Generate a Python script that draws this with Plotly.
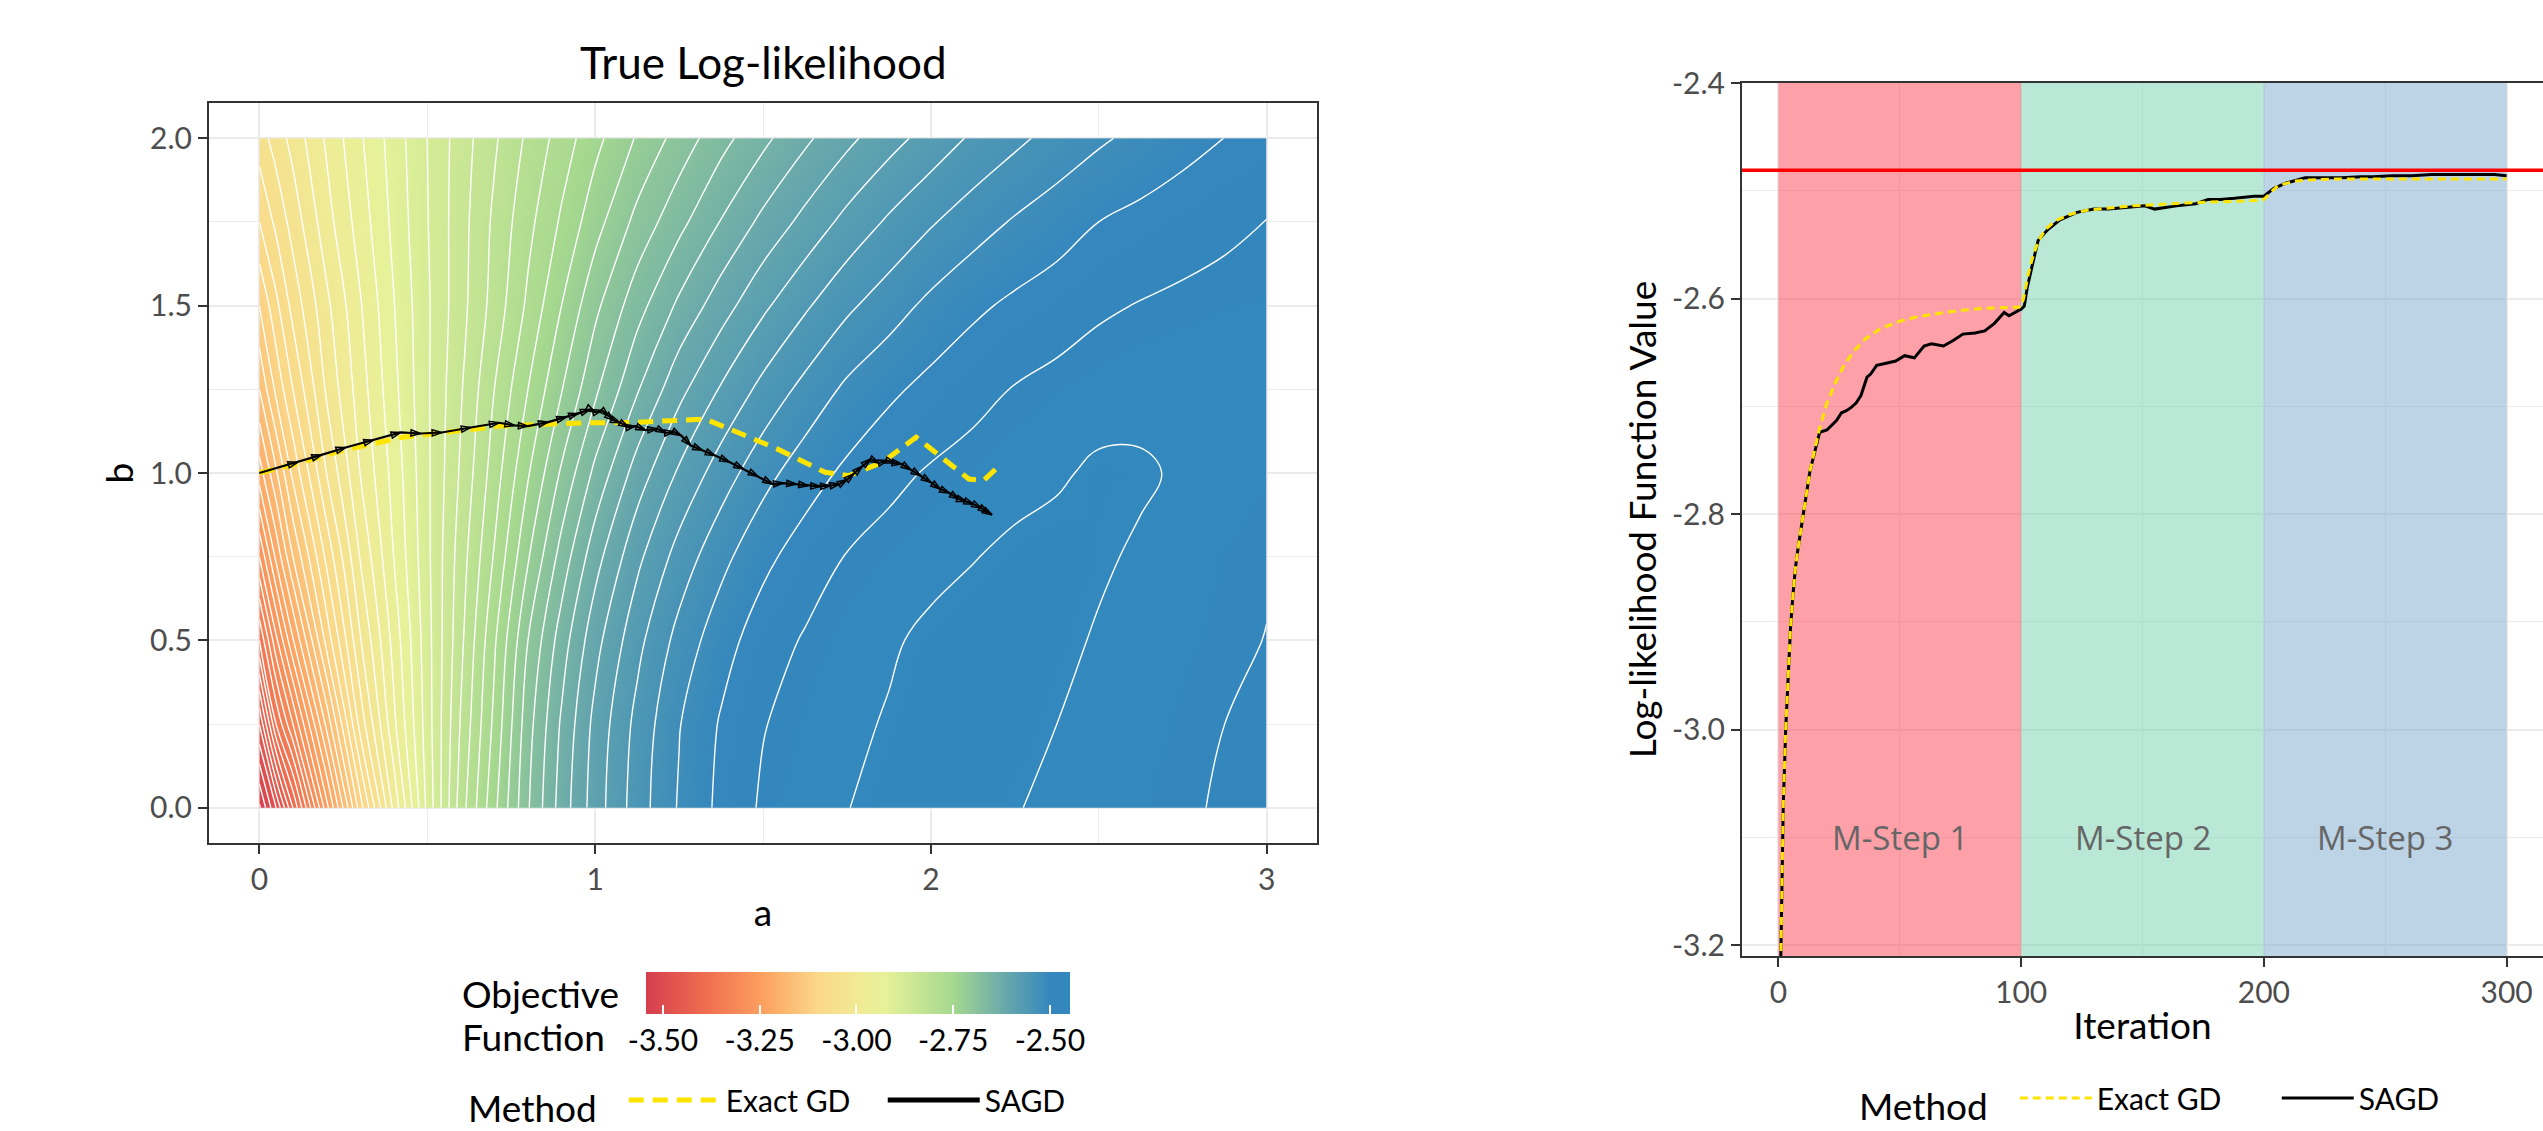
import plotly.graph_objects as go

W, H = 2543, 1131
FONT = "Lato"

# ---------------- Left panel: objective surface ----------------
grid_a = [0, 0.05, 0.1, 0.2, 0.3, 0.4, 0.5, 0.6, 0.7, 0.8, 0.9, 1.0, 1.125, 1.25, 1.375, 1.5,
          1.625, 1.75, 1.875, 2.0, 2.125, 2.25, 2.375, 2.5, 2.625, 2.75, 2.875, 3.0]
grid_b = [0, 0.25, 0.5, 0.75, 1.0, 1.25, 1.5, 1.75, 2.0]

z_b000 = [-3.544, -3.480, -3.400, -3.248, -3.110, -2.995, -2.895, -2.810, -2.745, -2.682, -2.631, -2.590, -2.550, -2.518,
          -2.495, -2.477, -2.468, -2.4605, -2.454, -2.451, -2.453, -2.459, -2.464, -2.469, -2.473, -2.4775, -2.482, -2.486]
z_b025 = [-3.460, -3.360, -3.300, -3.175, -3.053, -2.965, -2.890, -2.818, -2.755, -2.688, -2.637, -2.594, -2.554, -2.521,
          -2.498, -2.481, -2.472, -2.465, -2.458, -2.452, -2.450, -2.453, -2.460, -2.465, -2.470, -2.475, -2.480, -2.484]
z_b050 = [-3.360, -3.285, -3.222, -3.113, -3.022, -2.953, -2.888, -2.825, -2.763, -2.700, -2.650, -2.607, -2.566, -2.533,
          -2.508, -2.490, -2.478, -2.470, -2.463, -2.455, -2.450, -2.449, -2.455, -2.462, -2.467, -2.472, -2.476, -2.4805]
z_b075 = [-3.280, -3.215, -3.160, -3.075, -2.999, -2.940, -2.885, -2.830, -2.778, -2.722, -2.672, -2.628, -2.585, -2.552,
          -2.526, -2.505, -2.491, -2.479, -2.473, -2.467, -2.461, -2.455, -2.452, -2.457, -2.463, -2.469, -2.474, -2.478]
z_b100 = [-3.210, -3.163, -3.115, -3.040, -2.980, -2.933, -2.884, -2.837, -2.790, -2.742, -2.697, -2.655, -2.611, -2.577,
          -2.550, -2.527, -2.509, -2.496, -2.485, -2.478, -2.473, -2.468, -2.463, -2.456, -2.457, -2.463, -2.469, -2.473]
z_b125 = [-3.160, -3.115, -3.080, -3.017, -2.970, -2.926, -2.883, -2.842, -2.800, -2.760, -2.721, -2.684, -2.642, -2.606,
          -2.578, -2.554, -2.534, -2.516, -2.504, -2.494, -2.486, -2.479, -2.474, -2.470, -2.467, -2.466, -2.467, -2.469]
z_b150 = [-3.120, -3.085, -3.053, -3.005, -2.962, -2.921, -2.883, -2.847, -2.812, -2.776, -2.740, -2.705, -2.668, -2.636,
          -2.609, -2.584, -2.563, -2.544, -2.529, -2.515, -2.504, -2.496, -2.490, -2.483, -2.479, -2.476, -2.474, -2.473]
z_b175 = [-3.080, -3.055, -3.032, -2.988, -2.951, -2.915, -2.881, -2.848, -2.816, -2.786, -2.757, -2.728, -2.694, -2.666,
          -2.639, -2.615, -2.594, -2.574, -2.557, -2.542, -2.529, -2.518, -2.509, -2.500, -2.4945, -2.489, -2.484, -2.4795]
z_b200 = [-3.050, -3.031, -3.013, -2.977, -2.943, -2.911, -2.880, -2.850, -2.823, -2.796, -2.771, -2.746, -2.718, -2.692,
          -2.667, -2.645, -2.624, -2.605, -2.5875, -2.572, -2.557, -2.5445, -2.533, -2.523, -2.5146, -2.507, -2.4998, -2.495]
objective = [z_b000, z_b025, z_b050, z_b075, z_b100, z_b125, z_b150, z_b175, z_b200]
z_min, z_max = -3.544, -2.448
contour_start, contour_end, contour_step = -3.54, -2.46, 0.02

colorbar_ticks = [-3.5, -3.25, -3.0, -2.75, -2.5]
colorbar_ticktext = ["-3.50", "-3.25", "-3.00", "-2.75", "-2.50"]

exact_path = [(0.000, 1.000), (0.114, 1.028), (0.250, 1.068), (0.428, 1.107), (0.714, 1.140),
              (0.971, 1.150), (1.114, 1.151), (1.328, 1.161), (1.399, 1.132), (1.542, 1.072),
              (1.685, 1.002), (1.756, 0.992), (1.856, 1.032), (1.956, 1.107), (2.013, 1.062),
              (2.113, 0.982), (2.156, 0.977), (2.199, 1.017)]

sagd_path = [(0.000, 1.000), (0.057, 1.016), (0.114, 1.032), (0.185, 1.054), (0.257, 1.076),
             (0.340, 1.098), (0.421, 1.121), (0.480, 1.118), (0.543, 1.121), (0.630, 1.136),
             (0.714, 1.150), (0.760, 1.142), (0.800, 1.140), (0.860, 1.152), (0.914, 1.167),
             (0.950, 1.178), (0.985, 1.190), (1.000, 1.182), (1.021, 1.187), (1.040, 1.170),
             (1.057, 1.157), (1.075, 1.150), (1.099, 1.137), (1.120, 1.140), (1.150, 1.128),
             (1.185, 1.132), (1.210, 1.120), (1.235, 1.123), (1.256, 1.112), (1.285, 1.082),
             (1.320, 1.068), (1.357, 1.052), (1.400, 1.033), (1.442, 1.012), (1.485, 0.990),
             (1.528, 0.967), (1.560, 0.970), (1.599, 0.967), (1.635, 0.962), (1.671, 0.960),
             (1.700, 0.962), (1.728, 0.967), (1.750, 0.980), (1.770, 0.997), (1.795, 1.020),
             (1.821, 1.042), (1.845, 1.030), (1.871, 1.037), (1.893, 1.030), (1.913, 1.027),
             (1.940, 1.010), (1.970, 0.992), (2.000, 0.972), (2.028, 0.952), (2.055, 0.940),
             (2.084, 0.922), (2.105, 0.915), (2.127, 0.907), (2.150, 0.895), (2.170, 0.882),
             (2.182, 0.875)]

# ---------------- Right panel: log-likelihood by iteration ----------------
iter_exact = [0, 1, 2, 3, 4, 5, 6, 7, 8, 9, 10, 13, 17, 20, 23.5, 27, 31, 36, 42, 50, 57, 65, 75, 85, 99,
              100, 101, 102, 103, 104, 105, 107, 110, 114, 120, 127, 135, 145, 155, 170, 185, 199,
              200, 202, 204, 206, 209, 213, 218, 230, 260, 300]
ll_exact = [-3.35, -3.19, -3.07, -3.00, -2.945, -2.905, -2.875, -2.850, -2.833, -2.818, -2.805, -2.760, -2.720,
            -2.697, -2.678, -2.662, -2.649, -2.637, -2.628, -2.621, -2.617, -2.614, -2.611, -2.609, -2.608,
            -2.607, -2.600, -2.588, -2.577, -2.568, -2.560, -2.547, -2.536, -2.528, -2.522, -2.518, -2.516,
            -2.514, -2.513, -2.511, -2.510, -2.509,
            -2.508, -2.503, -2.499, -2.495, -2.493, -2.491, -2.490, -2.489, -2.489, -2.489]

iter_sagd = [0, 1, 2, 3, 4, 5, 6, 7, 8, 9, 10, 13, 15, 17, 20, 22, 24, 26, 28, 30, 32, 34, 36.5, 38, 40.5, 44.4,
             48.3, 52, 56, 60, 63, 68, 72, 76, 81, 85, 89, 93, 95, 99, 100, 101.3, 102.5, 104.4, 107, 111, 116,
             123, 130, 136, 141, 146, 151, 155, 160, 164, 168, 172, 177, 182, 188, 192, 196, 200, 204, 209,
             217, 225, 232, 240, 245, 253, 261, 269, 277, 285, 290, 295, 300]
ll_sagd = [-3.35, -3.19, -3.07, -3.00, -2.945, -2.905, -2.875, -2.850, -2.833, -2.818, -2.805, -2.760, -2.742,
           -2.724, -2.722, -2.717, -2.713, -2.706, -2.704, -2.701, -2.697, -2.690, -2.673, -2.670, -2.662, -2.660,
           -2.658, -2.653, -2.655, -2.644, -2.642, -2.644, -2.639, -2.633, -2.632, -2.630, -2.623, -2.613, -2.616,
           -2.611, -2.610, -2.607, -2.590, -2.571, -2.546, -2.536, -2.527, -2.520, -2.517, -2.517, -2.516, -2.515,
           -2.514, -2.517, -2.515, -2.514, -2.513, -2.512, -2.508, -2.508, -2.507, -2.506, -2.505, -2.505, -2.498,
           -2.493, -2.488, -2.488, -2.488, -2.487, -2.487, -2.486, -2.486, -2.485, -2.485, -2.485, -2.485, -2.485,
           -2.486]

true_loglik = -2.481
step_edges = [0, 100, 200, 300]
step_names = ["M-Step 1", "M-Step 2", "M-Step 3"]
step_label_y = -3.1
step_fills = ["rgba(251,65,81,0.5)", "rgba(117,209,173,0.5)", "rgba(123,169,207,0.5)"]
iter_range = [-15, 315]
ll_range = [-3.21, -2.4]

# ---------------- styling ----------------
colorscale = [[0.0, "#D53E4F"], [0.131, "#EE6A4F"], [0.268, "#FC9D5E"], [0.405, "#FBD888"],
              [0.50, "#F1EA95"], [0.565, "#E6F299"], [0.725, "#A5D88F"], [0.843, "#6BAAAB"],
              [0.953, "#3587BD"], [1.0, "#3288BD"]]
YELLOW = "#FFE400"
BORDER = "#333333"
GRID = "#EBEBEB"
TICKFONT = dict(family=FONT, size=30, color="#4D4D4D")
TITLEFONT = dict(family=FONT, size=37, color="black")
NB = "\u00a0"


def px_x(p):
    return p / W


def px_y(p):
    return 1 - p / H


fig = go.Figure()

# surface (fill + white contour lines)
fig.add_trace(go.Contour(
    x=grid_a, y=grid_b, z=objective,
    colorscale=colorscale, zmin=z_min, zmax=z_max, zauto=False, showscale=False,
    contours=dict(start=contour_start, end=contour_end, size=contour_step,
                  coloring="heatmap", showlines=True),
    line=dict(color="white", width=1.4, smoothing=1.1),
    hoverinfo="skip", showlegend=False, xaxis="x", yaxis="y"))

# colour bar carrier (no points drawn)
fig.add_trace(go.Scatter(
    x=[None], y=[None], mode="markers", showlegend=False, hoverinfo="skip", xaxis="x", yaxis="y",
    marker=dict(color=[z_min, z_max], cmin=z_min, cmax=z_max, colorscale=colorscale, showscale=True,
                colorbar=dict(orientation="h", x=px_x(646), xanchor="left", y=px_y(972), yanchor="top",
                              len=424, lenmode="pixels", thickness=42, thicknessmode="pixels",
                              xpad=0, ypad=0, outlinewidth=0,
                              tickvals=colorbar_ticks, ticktext=colorbar_ticktext,
                              ticks="inside", ticklen=9, tickwidth=2, tickcolor="white",
                              tickfont=dict(family=FONT, size=30, color="black")))))

fig.add_trace(go.Scatter(
    x=[p[0] for p in exact_path], y=[p[1] for p in exact_path], mode="lines",
    line=dict(color=YELLOW, width=5, dash="15px,9px"), name="Exact GD",
    legend="legend", legendrank=1, xaxis="x", yaxis="y", hoverinfo="skip"))
fig.add_trace(go.Scatter(
    x=[p[0] for p in sagd_path], y=[p[1] for p in sagd_path], mode="lines",
    line=dict(color="black", width=2.2), showlegend=False, xaxis="x", yaxis="y", hoverinfo="skip"))
fig.add_trace(go.Scatter(
    x=[p[0] for p in sagd_path[1:]], y=[p[1] for p in sagd_path[1:]], mode="markers",
    marker=dict(symbol="arrow-open", size=10, angleref="previous", color="black",
                line=dict(color="black", width=1.5)),
    showlegend=False, xaxis="x", yaxis="y", hoverinfo="skip"))
fig.add_trace(go.Scatter(  # legend key for SAGD (thick, as in the reference key)
    x=[None], y=[None], mode="lines", line=dict(color="black", width=5), name="SAGD",
    legend="legend", legendrank=2, xaxis="x", yaxis="y", hoverinfo="skip"))

# right panel: M-step bands, true value, curves
for i in range(3):
    fig.add_trace(go.Scatter(
        x=[step_edges[i], step_edges[i], step_edges[i + 1], step_edges[i + 1]],
        y=[ll_range[0], ll_range[1], ll_range[1], ll_range[0]],
        fill="toself", fillcolor=step_fills[i], mode="lines",
        line=dict(width=0, color="rgba(0,0,0,0)"), showlegend=False, hoverinfo="skip",
        xaxis="x2", yaxis="y2"))
fig.add_trace(go.Scatter(
    x=iter_range, y=[true_loglik, true_loglik], mode="lines", line=dict(color="#FF0000", width=3.5),
    showlegend=False, hoverinfo="skip", xaxis="x2", yaxis="y2"))
fig.add_trace(go.Scatter(
    x=iter_sagd, y=ll_sagd, mode="lines", line=dict(color="black", width=3),
    name="SAGD", legend="legend2", legendrank=2, xaxis="x2", yaxis="y2", hoverinfo="skip"))
fig.add_trace(go.Scatter(
    x=iter_exact, y=ll_exact, mode="lines", line=dict(color=YELLOW, width=3, dash="8px,5px"),
    name="Exact GD", legend="legend2", legendrank=1, xaxis="x2", yaxis="y2", hoverinfo="skip"))

annotations = [
    dict(text="True Log-likelihood", xref="paper", yref="paper", x=px_x(763), y=px_y(62),
         xanchor="center", yanchor="middle", showarrow=False,
         font=dict(family=FONT, size=44, color="black")),
    dict(text="Objective", xref="paper", yref="paper", x=px_x(460), y=px_y(993),
         xanchor="left", yanchor="middle", showarrow=False, font=TITLEFONT),
    dict(text="Function", xref="paper", yref="paper", x=px_x(460), y=px_y(1036),
         xanchor="left", yanchor="middle", showarrow=False, font=TITLEFONT),
]
for i in range(3):
    annotations.append(dict(text=step_names[i], xref="x2", yref="y2",
                            x=(step_edges[i] + step_edges[i + 1]) / 2, y=step_label_y,
                            showarrow=False, xanchor="center", yanchor="middle",
                            font=dict(family="Open Sans", size=33, color="#666666")))

axis_common = dict(showline=True, linecolor=BORDER, linewidth=2, mirror=True,
                   ticks="outside", ticklen=9, tickwidth=2, tickcolor=BORDER,
                   showgrid=True, gridcolor=GRID, gridwidth=2, zeroline=False,
                   tickfont=TICKFONT)

legend_common = dict(orientation="h", xanchor="left", yanchor="top",
                     font=dict(family=FONT, size=30, color="black"),
                     entrywidthmode="pixels", bgcolor="rgba(0,0,0,0)", traceorder="normal")

fig.update_layout(
    width=W, height=H, autosize=False,
    margin=dict(l=0, r=0, t=0, b=0, autoexpand=False),
    paper_bgcolor="white", plot_bgcolor="white",
    xaxis=dict(domain=[px_x(209), px_x(1317)], range=[-0.15, 3.15], anchor="y",
               tickvals=[0, 1, 2, 3], ticktext=["0", "1", "2", "3"],
               minor=dict(tickvals=[0.5, 1.5, 2.5], showgrid=True, gridcolor=GRID, gridwidth=1, ticks=""),
               title=dict(text="a", font=TITLEFONT, standoff=5), **axis_common),
    yaxis=dict(domain=[px_y(843), px_y(103)], range=[-0.105, 2.105], anchor="x",
               tickvals=[0, 0.5, 1, 1.5, 2], ticktext=["0.0", "0.5", "1.0", "1.5", "2.0"],
               minor=dict(tickvals=[0.25, 0.75, 1.25, 1.75], showgrid=True, gridcolor=GRID, gridwidth=1, ticks=""),
               title=dict(text="b", font=TITLEFONT, standoff=5), **axis_common),
    xaxis2=dict(domain=[px_x(1742), 1.0], range=iter_range, anchor="y2",
                tickvals=[0, 100, 200, 300], ticktext=["0", "100", "200", "300"],
                minor=dict(tickvals=[50, 150, 250], showgrid=True, gridcolor=GRID, gridwidth=1, ticks=""),
                title=dict(text="Iteration", font=TITLEFONT, standoff=5), **axis_common),
    yaxis2=dict(domain=[px_y(956), px_y(83)], range=ll_range, anchor="x2",
                tickvals=[-3.2, -3.0, -2.8, -2.6, -2.4], ticktext=["-3.2", "-3.0", "-2.8", "-2.6", "-2.4"],
                minor=dict(tickvals=[-3.1, -2.9, -2.7, -2.5], showgrid=True, gridcolor=GRID, gridwidth=1, ticks=""),
                title=dict(text="Log-likelihood Function Value", font=TITLEFONT, standoff=4), **axis_common),
    legend=dict(x=px_x(466), y=px_y(1074), itemwidth=92, entrywidth=152,
                title=dict(text="Method" + NB * 2, side="left", font=TITLEFONT), **legend_common),
    legend2=dict(x=px_x(1857), y=px_y(1072), itemwidth=72, entrywidth=175,
                 title=dict(text="Method" + NB * 2, side="left", font=TITLEFONT), **legend_common),
    annotations=annotations,
    font=dict(family=FONT, color="black"),
)

fig.write_html("out.html", config={"displayModeBar": False},
               post_script="document.body.style.margin='0';document.body.style.overflow='hidden';")
